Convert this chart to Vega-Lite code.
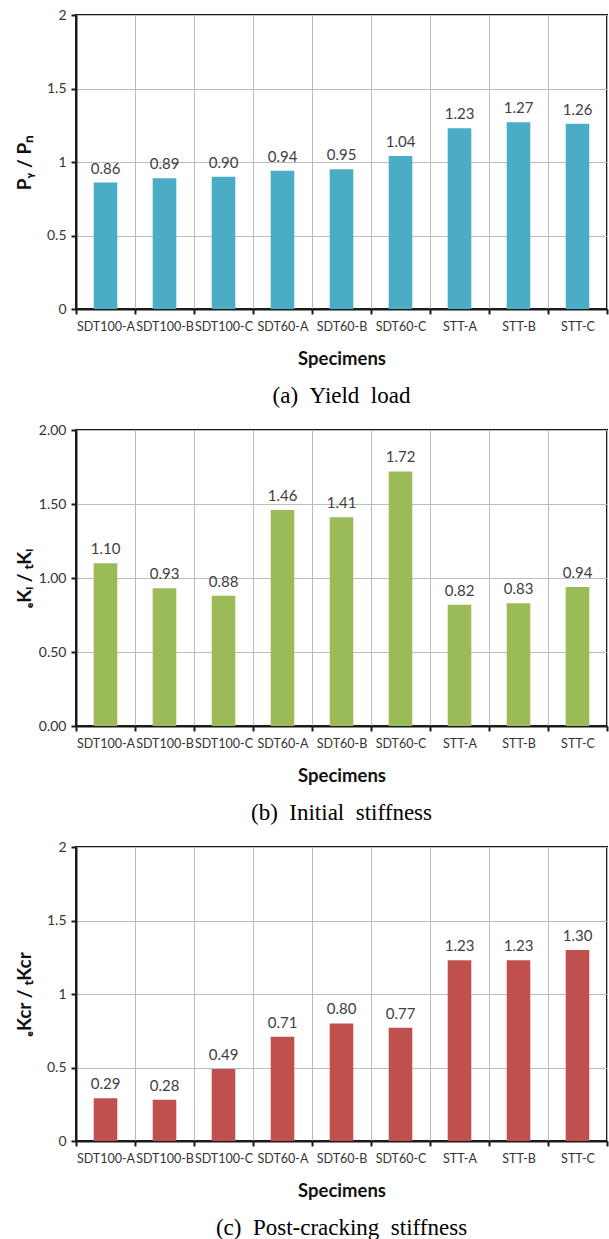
{
  "$schema": "https://vega.github.io/schema/vega-lite/v6.json",
  "padding": {"left": 14, "top": 7, "right": 2, "bottom": 2},
  "spacing": 13,
  "config": {
    "font": "Lato",
    "view": {"stroke": "#1a1a1a", "strokeWidth": 2},
    "axis": {
      "domainColor": "#1a1a1a",
      "domainWidth": 2,
      "tickColor": "#1a1a1a",
      "tickWidth": 2,
      "tickSize": 5,
      "gridColor": "#bcbcbc",
      "gridWidth": 1,
      "labelColor": "#333333",
      "labelFont": "Lato",
      "titleFont": "Lato",
      "titleColor": "#111111",
      "titleFontWeight": "bold"
    },
    "axisX": {
      "labelFontSize": 12.5,
      "labelAngle": 0,
      "labelOverlap": false,
      "labelBound": false,
      "labelPadding": 6,
      "titleFontSize": 18.5,
      "titlePadding": 17,
      "tickBand": "extent",
      "grid": true
    },
    "axisY": {
      "labelFontSize": 14,
      "labelPadding": 5,
      "titleFontSize": 19,
      "titlePadding": 6,
      "minExtent": 36,
      "maxExtent": 36,
      "grid": true
    },
    "title": {
      "orient": "bottom",
      "frame": "group",
      "font": "Liberation Serif",
      "fontSize": 23,
      "fontWeight": "normal",
      "color": "#000000",
      "offset": 17
    }
  },
  "vconcat": [
    {
      "width": 531,
      "height": 294,
      "title": {"text": "(a)\u00a0\u00a0Yield\u00a0\u00a0load"},
      "data": {"values": [
        {"specimen": "SDT100-A", "value": 0.86},
        {"specimen": "SDT100-B", "value": 0.89},
        {"specimen": "SDT100-C", "value": 0.90},
        {"specimen": "SDT60-A", "value": 0.94},
        {"specimen": "SDT60-B", "value": 0.95},
        {"specimen": "SDT60-C", "value": 1.04},
        {"specimen": "STT-A", "value": 1.23},
        {"specimen": "STT-B", "value": 1.27},
        {"specimen": "STT-C", "value": 1.26}
      ]},
      "encoding": {
        "x": {"field": "specimen", "type": "nominal", "sort": null,
              "scale": {"paddingInner": 0, "paddingOuter": 0},
              "axis": {"title": "Specimens"}},
        "y": {"field": "value", "type": "quantitative",
              "scale": {"domain": [0, 2]},
              "axis": {"values": [0, 0.5, 1, 1.5, 2], "format": "~g", "title": "Pᵧ / Pₙ"}}
      },
      "layer": [
        {"mark": {"type": "bar", "width": {"band": 0.4}, "color": "#4BACC6"}},
        {"mark": {"type": "text", "baseline": "bottom", "dy": -6, "fontSize": 15, "color": "#404040", "font": "Lato"},
         "encoding": {"text": {"field": "value", "type": "quantitative", "format": ".2f"}}}
      ]
    },
    {
      "width": 531,
      "height": 296,
      "title": {"text": "(b)\u00a0\u00a0Initial\u00a0\u00a0stiffness"},
      "data": {"values": [
        {"specimen": "SDT100-A", "value": 1.10},
        {"specimen": "SDT100-B", "value": 0.93},
        {"specimen": "SDT100-C", "value": 0.88},
        {"specimen": "SDT60-A", "value": 1.46},
        {"specimen": "SDT60-B", "value": 1.41},
        {"specimen": "SDT60-C", "value": 1.72},
        {"specimen": "STT-A", "value": 0.82},
        {"specimen": "STT-B", "value": 0.83},
        {"specimen": "STT-C", "value": 0.94}
      ]},
      "encoding": {
        "x": {"field": "specimen", "type": "nominal", "sort": null,
              "scale": {"paddingInner": 0, "paddingOuter": 0},
              "axis": {"title": "Specimens"}},
        "y": {"field": "value", "type": "quantitative",
              "scale": {"domain": [0, 2]},
              "axis": {"values": [0, 0.5, 1, 1.5, 2], "format": ".2f", "title": "ₑKᵢ / ₜKᵢ"}}
      },
      "layer": [
        {"mark": {"type": "bar", "width": {"band": 0.4}, "color": "#9BBB59"}},
        {"mark": {"type": "text", "baseline": "bottom", "dy": -6, "fontSize": 15, "color": "#404040", "font": "Lato"},
         "encoding": {"text": {"field": "value", "type": "quantitative", "format": ".2f"}}}
      ]
    },
    {
      "width": 531,
      "height": 294,
      "title": {"text": "(c)\u00a0\u00a0Post-cracking\u00a0\u00a0stiffness"},
      "data": {"values": [
        {"specimen": "SDT100-A", "value": 0.29},
        {"specimen": "SDT100-B", "value": 0.28},
        {"specimen": "SDT100-C", "value": 0.49},
        {"specimen": "SDT60-A", "value": 0.71},
        {"specimen": "SDT60-B", "value": 0.80},
        {"specimen": "SDT60-C", "value": 0.77},
        {"specimen": "STT-A", "value": 1.23},
        {"specimen": "STT-B", "value": 1.23},
        {"specimen": "STT-C", "value": 1.30}
      ]},
      "encoding": {
        "x": {"field": "specimen", "type": "nominal", "sort": null,
              "scale": {"paddingInner": 0, "paddingOuter": 0},
              "axis": {"title": "Specimens"}},
        "y": {"field": "value", "type": "quantitative",
              "scale": {"domain": [0, 2]},
              "axis": {"values": [0, 0.5, 1, 1.5, 2], "format": "~g", "title": "ₑKcr / ₜKcr"}}
      },
      "layer": [
        {"mark": {"type": "bar", "width": {"band": 0.4}, "color": "#C0504D"}},
        {"mark": {"type": "text", "baseline": "bottom", "dy": -6, "fontSize": 15, "color": "#404040", "font": "Lato"},
         "encoding": {"text": {"field": "value", "type": "quantitative", "format": ".2f"}}}
      ]
    }
  ]
}
